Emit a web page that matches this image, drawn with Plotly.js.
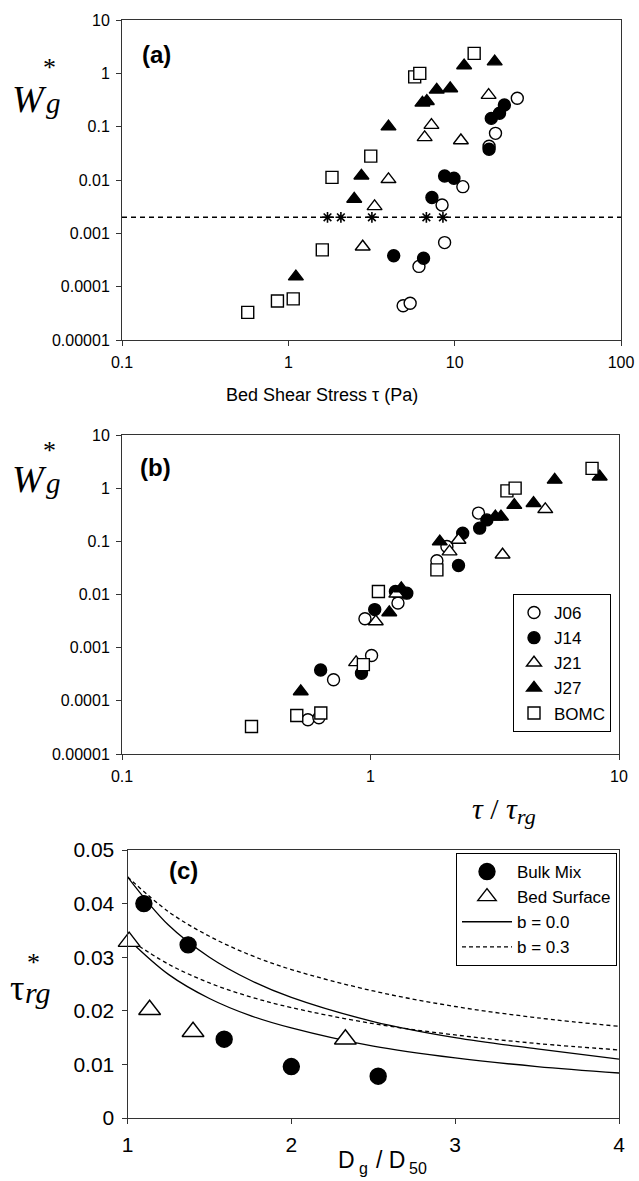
<!DOCTYPE html>
<html><head><meta charset="utf-8">
<script src="https://cdn.plot.ly/plotly-3.0.1.min.js"></script>
<style>html,body{margin:0;padding:0;background:#fff}#chart{width:639px;height:1181px}</style>
</head><body><div id="chart"></div>
<script>
// ---------- Panel (a): bed shear stress (Pa) vs W*g ----------
const a_J06_x = [4.9, 5.4, 6.1, 8.7, 8.4, 11.2, 16.1, 17.6, 23.8];
const a_J06_y = [0.000044, 0.000049, 0.00024, 0.00067, 0.0034, 0.0075, 0.043, 0.075, 0.34];
const a_J14_x = [4.3, 6.5, 7.3, 8.7, 9.9, 16.1, 16.6, 18.6, 19.9];
const a_J14_y = [0.00038, 0.00034, 0.0047, 0.0119, 0.0108, 0.0376, 0.143, 0.178, 0.255];
const a_J21_x = [2.8, 3.3, 4.0, 6.6, 7.25, 10.9, 16.0];
const a_J21_y = [0.00056, 0.0032, 0.0103, 0.063, 0.107, 0.055, 0.39];
const a_J27_x = [1.11, 2.49, 2.75, 4.0, 6.4, 6.8, 7.8, 9.4, 11.4, 17.4];
const a_J27_y = [0.000154, 0.0044, 0.012, 0.10, 0.28, 0.30, 0.49, 0.52, 1.4, 1.66];
const a_BOMC_x = [0.57, 0.86, 1.07, 1.6, 1.83, 3.13, 5.75, 6.17, 13.1];
const a_BOMC_y = [0.000033, 0.000054, 0.000059, 0.00049, 0.0112, 0.028, 0.86, 1.0, 2.37];
const a_refLine_x = [0.1, 100];
const a_refLine_y = [0.002, 0.002];
const a_star_x = [1.72, 2.07, 3.18, 6.76, 8.5];
const a_star_y = [0.002, 0.002, 0.002, 0.002, 0.002];

// ---------- Panel (b): tau / tau_rg vs W*g ----------
const b_J06_x = [0.56, 0.62, 0.71, 1.01, 0.95, 1.29, 1.85, 2.03, 2.72];
const b_J06_y = [0.000044, 0.000048, 0.00025, 0.00071, 0.0035, 0.0069, 0.043, 0.080, 0.34];
const b_J14_x = [0.63, 0.92, 1.04, 1.26, 1.40, 2.26, 2.35, 2.75, 2.94];
const b_J14_y = [0.00038, 0.00033, 0.0052, 0.0114, 0.0106, 0.035, 0.142, 0.177, 0.253];
const b_J21_x = [0.875, 1.05, 1.27, 2.08, 2.26, 3.4, 5.05];
const b_J21_y = [0.00053, 0.0031, 0.0103, 0.064, 0.106, 0.056, 0.40];
const b_J27_x = [0.524, 1.19, 1.33, 1.9, 3.18, 3.35, 3.79, 4.53, 5.51, 8.36];
const b_J27_y = [0.00015, 0.0046, 0.013, 0.099, 0.29, 0.29, 0.48, 0.52, 1.43, 1.64];
const b_BOMC_x = [0.332, 0.505, 0.631, 0.936, 1.076, 1.85, 3.54, 3.82, 7.79];
const b_BOMC_y = [0.000033, 0.000053, 0.000059, 0.00048, 0.0114, 0.029, 0.89, 1.0, 2.36];

// ---------- Panel (c): Dg/D50 vs tau*rg ----------
const c_bulk_x = [1.10, 1.37, 1.59, 2.00, 2.53];
const c_bulk_y = [0.040, 0.0323, 0.0147, 0.0096, 0.0078];
const c_surf_x = [1.01, 1.135, 1.40, 2.33];
const c_surf_y = [0.0329, 0.0202, 0.0161, 0.0147];
const c_curve_x = [1, 1.25, 1.5, 1.75, 2, 2.5, 3, 3.5, 4];
const c_b00_bulk_y = [0.045, 0.036, 0.030, 0.0257, 0.0225, 0.018, 0.015, 0.0129, 0.011];
const c_b00_surf_y = [0.0335, 0.0268, 0.0223, 0.0191, 0.0168, 0.0134, 0.0112, 0.0096, 0.0084];
const c_b03_bulk_y = [0.045, 0.0385, 0.0339, 0.0304, 0.0277, 0.0237, 0.0208, 0.0187, 0.0171];
const c_b03_surf_y = [0.0335, 0.0287, 0.0252, 0.0226, 0.0206, 0.0176, 0.0155, 0.0139, 0.0127];

// ---------- tick labels ----------
const logY_vals = [0.00001, 0.0001, 0.001, 0.01, 0.1, 1, 10];
const logY_text = ["0.00001", "0.0001", "0.001", "0.01", "0.1", "1", "10"];
const a_x_vals = [0.1, 1, 10, 100];
const a_x_text = ["0.1", "1", "10", "100"];
const b_x_vals = [0.1, 1, 10];
const b_x_text = ["0.1", "1", "10"];
const c_x_vals = [1, 2, 3, 4];
const c_x_text = ["1", "2", "3", "4"];
const c_y_vals = [0, 0.01, 0.02, 0.03, 0.04, 0.05];
const c_y_text = ["0", "0.01", "0.02", "0.03", "0.04", "0.05"];

const W = 639, H = 1181;
const PX = v => v / W, PY = v => 1 - v / H;
const sans = 'Liberation Sans, Arial, sans-serif';
const serif = 'Liberation Serif, Times New Roman, serif';

function pts(x, y, xa, ya, symbol, fill, size, name, legend, show, rank) {
  return {type: 'scatter', mode: 'markers', x, y, xaxis: xa, yaxis: ya, name,
    legend: legend, showlegend: show, legendrank: rank || 1000, cliponaxis: false, hoverinfo: 'skip',
    marker: {symbol, size, color: fill, line: {color: 'black', width: 1.4}}};
}
function curve(y, name, dashed, show, rank) {
  return {type: 'scatter', mode: 'lines', x: c_curve_x, y, xaxis: 'x3', yaxis: 'y3', name,
    legend: 'legend2', showlegend: show, legendrank: rank, hoverinfo: 'skip',
    line: {color: 'black', width: 1.3, shape: 'spline', dash: dashed ? '4px,3px' : 'solid'}};
}

const traces = [
  // panel a
  {type: 'scatter', mode: 'lines', x: a_refLine_x, y: a_refLine_y, xaxis: 'x', yaxis: 'y',
   showlegend: false, hoverinfo: 'skip', line: {color: 'black', width: 1.4, dash: '5px,4px'}},
  pts(a_J06_x, a_J06_y, 'x', 'y', 'circle', 'white', 12, 'J06', 'legend', false),
  pts(a_J14_x, a_J14_y, 'x', 'y', 'circle', 'black', 12, 'J14', 'legend', false),
  pts(a_J21_x, a_J21_y, 'x', 'y', 'triangle-up', 'white', 13, 'J21', 'legend', false),
  pts(a_J27_x, a_J27_y, 'x', 'y', 'triangle-up', 'black', 13, 'J27', 'legend', false),
  pts(a_BOMC_x, a_BOMC_y, 'x', 'y', 'square', 'white', 12, 'BOMC', 'legend', false),
  {type: 'scatter', mode: 'markers', x: a_star_x, y: a_star_y, xaxis: 'x', yaxis: 'y', showlegend: false,
   hoverinfo: 'skip', marker: {symbol: 'asterisk-open', size: 9, color: 'black', line: {color: 'black', width: 1.6}}},
  // panel b
  pts(b_J06_x, b_J06_y, 'x2', 'y2', 'circle', 'white', 12, 'J06', 'legend', true, 1),
  pts(b_J14_x, b_J14_y, 'x2', 'y2', 'circle', 'black', 12, 'J14', 'legend', true, 2),
  pts(b_J21_x, b_J21_y, 'x2', 'y2', 'triangle-up', 'white', 13, 'J21', 'legend', true, 3),
  pts(b_J27_x, b_J27_y, 'x2', 'y2', 'triangle-up', 'black', 13, 'J27', 'legend', true, 4),
  pts(b_BOMC_x, b_BOMC_y, 'x2', 'y2', 'square', 'white', 12, 'BOMC', 'legend', true, 5),
  // panel c curves (drawn first, below markers)
  curve(c_b00_bulk_y, 'b = 0.0', false, true, 3),
  curve(c_b03_bulk_y, 'b = 0.3', true, true, 4),
  curve(c_b00_surf_y, 'b = 0.0', false, false, 5),
  curve(c_b03_surf_y, 'b = 0.3', true, false, 6),
  // panel c markers
  pts(c_bulk_x, c_bulk_y, 'x3', 'y3', 'circle', 'black', 16, 'Bulk Mix', 'legend2', true, 1),
  pts(c_surf_x, c_surf_y, 'x3', 'y3', 'triangle-up', 'white', 19, 'Bed Surface', 'legend2', true, 2)
];

const axBase = {showline: true, mirror: true, linecolor: '#333', linewidth: 1, showgrid: false,
  zeroline: false, ticks: 'outside', ticklen: 5, tickcolor: '#333', tickwidth: 1,
  tickfont: {family: sans, size: 16, color: 'black'}, tickmode: 'array', ticklabelstandoff: 3};

const layout = {
  width: W, height: H, margin: {l: 0, r: 0, t: 0, b: 0},
  paper_bgcolor: 'white', plot_bgcolor: 'white', showlegend: true,
  xaxis: Object.assign({}, axBase, {type: 'log', range: [-1, 2], domain: [PX(122), PX(621)], anchor: 'y',
    tickvals: a_x_vals, ticktext: a_x_text}),
  yaxis: Object.assign({}, axBase, {type: 'log', range: [-5, 1], domain: [PY(340), PY(20)], anchor: 'x',
    tickvals: logY_vals, ticktext: logY_text}),
  xaxis2: Object.assign({}, axBase, {type: 'log', range: [-1, 1], domain: [PX(122), PX(619)], anchor: 'y2',
    tickvals: b_x_vals, ticktext: b_x_text}),
  yaxis2: Object.assign({}, axBase, {type: 'log', range: [-5, 1], domain: [PY(754), PY(435)], anchor: 'x2',
    tickvals: logY_vals, ticktext: logY_text}),
  xaxis3: Object.assign({}, axBase, {range: [1, 4], domain: [PX(127.5), PX(619)], anchor: 'y3',
    tickvals: c_x_vals, ticktext: c_x_text, tickfont: {family: sans, size: 21, color: 'black'}}),
  yaxis3: Object.assign({}, axBase, {range: [0, 0.05], domain: [PY(1118), PY(850)], anchor: 'x3',
    tickvals: c_y_vals, ticktext: c_y_text, tickfont: {family: sans, size: 21, color: 'black'}}),
  legend: {x: PX(513), y: PY(594), xanchor: 'left', yanchor: 'top', bgcolor: 'white',
    bordercolor: 'black', borderwidth: 1, font: {family: sans, size: 17, color: 'black'},
    itemwidth: 30, tracegroupgap: 0},
  legend2: {x: PX(456), y: PY(853), xanchor: 'left', yanchor: 'top', bgcolor: 'white',
    bordercolor: 'black', borderwidth: 1, font: {family: sans, size: 17, color: 'black'},
    itemwidth: 50, tracegroupgap: 0},
  annotations: [
    {text: '<b>(a)</b>', x: PX(156), y: PY(55), font: {family: sans, size: 24, color: 'black'}},
    {text: '<b>(b)</b>', x: PX(155), y: PY(467), font: {family: sans, size: 24, color: 'black'}},
    {text: '<b>(c)</b>', x: PX(183), y: PY(870), font: {family: sans, size: 24, color: 'black'}},
    {text: 'Bed Shear Stress τ (Pa)', x: PX(322), y: PY(395), font: {family: sans, size: 18, color: 'black'}},
    // tau / tau_rg (panel b x title)
    {text: '<i>τ</i> / <i>τ</i>', x: PX(520), y: PY(808), xanchor: 'right', font: {family: serif, size: 30, color: 'black'}},
    {text: '<i>rg</i>', x: PX(515), y: PY(816), xanchor: 'left', font: {family: serif, size: 22, color: 'black'}},
    // D_g / D_50 (panel c x title)
    {text: 'D', x: PX(357), y: PY(1160), xanchor: 'right', font: {family: sans, size: 23, color: 'black'}},
    {text: 'g', x: PX(357), y: PY(1168), xanchor: 'left', font: {family: sans, size: 16, color: 'black'}},
    {text: '/ D', x: PX(407), y: PY(1160), xanchor: 'right', font: {family: sans, size: 23, color: 'black'}},
    {text: '50', x: PX(407), y: PY(1168), xanchor: 'left', font: {family: sans, size: 16, color: 'black'}},
    // W*g labels (a) and (b)
    {text: '<i>W</i>', x: PX(29), y: PY(99), font: {family: serif, size: 38, color: 'black'}},
    {text: '<i>g</i>', x: PX(53), y: PY(103), font: {family: serif, size: 29, color: 'black'}},
    {text: '*', x: PX(49), y: PY(68), font: {family: serif, size: 26, color: 'black'}},
    {text: '<i>W</i>', x: PX(29), y: PY(479), font: {family: serif, size: 38, color: 'black'}},
    {text: '<i>g</i>', x: PX(53), y: PY(483), font: {family: serif, size: 29, color: 'black'}},
    {text: '*', x: PX(49), y: PY(450), font: {family: serif, size: 26, color: 'black'}},
    // tau*rg label (c)
    {text: 'τ', x: PX(17), y: PY(988), font: {family: serif, size: 36, color: 'black'}},
    {text: '<i>rg</i>', x: PX(38), y: PY(992), font: {family: serif, size: 30, color: 'black'}},
    {text: '*', x: PX(33), y: PY(962), font: {family: serif, size: 26, color: 'black'}}
  ].map(a => Object.assign({xref: 'paper', yref: 'paper', showarrow: false, xanchor: 'center', yanchor: 'middle'}, a))
};

Plotly.newPlot('chart', traces, layout, {staticPlot: true, displayModeBar: false});
</script>
</body></html>
